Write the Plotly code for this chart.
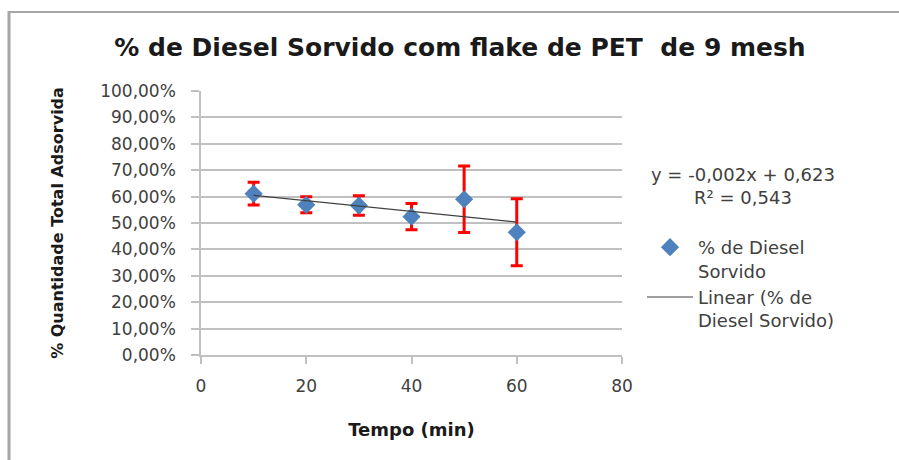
import numpy as np
import plotly.graph_objects as go

# Data
tempo = [10, 20, 30, 40, 50, 60]
diesel_sorvido = [0.611, 0.569, 0.566, 0.524, 0.590, 0.465]
erro = [0.043, 0.030, 0.037, 0.050, 0.126, 0.127]
x_ticks = [0, 20, 40, 60, 80]
equacao_texto = "y = -0,002x + 0,623<br>R² = 0,543"
titulo = "% de Diesel Sorvido com flake de PET  de 9 mesh"

slope, intercept = np.polyfit(tempo, diesel_sorvido, 1)
trend_x = [min(tempo), max(tempo)]
trend_y = [slope * v + intercept for v in trend_x]

W, H = 899, 460
L, R, T, B = 201, 277, 91, 105
pw, ph = W - L - R, H - T - B


def px(xp):
    return (xp - L) / pw


def py(yp):
    return (H - B - yp) / ph


fig = go.Figure()
fig.add_trace(go.Scatter(
    x=tempo, y=diesel_sorvido, mode="markers",
    name="% de Diesel<br>Sorvido",
    marker=dict(symbol="diamond", size=14, color="#4F81BD"),
    error_y=dict(type="data", array=erro, visible=True, color="#FF0000",
                 thickness=3, width=6),
))
fig.add_trace(go.Scatter(
    x=trend_x, y=trend_y, mode="lines",
    name="Linear (% de<br>Diesel Sorvido)",
    line=dict(color="#404040", width=1.2),
))

grid = "#C0C0C0"
fig.update_layout(
    width=W, height=H,
    margin=dict(l=L, r=R, t=T, b=B, autoexpand=False),
    paper_bgcolor="white", plot_bgcolor="white",
    separators=", ",
    font=dict(family="DejaVu Sans", color="#404040", size=14),
    title=dict(text="<b>" + titulo + "</b>", x=(108 + 812) / 2 / W, xanchor="center",
               y=1 - 47 / H, yanchor="middle",
               font=dict(family="DejaVu Sans", size=25, color="#1a1a1a")),
    xaxis=dict(range=[0, 80], tickvals=x_ticks, showgrid=False, zeroline=False,
               showline=True, linecolor=grid, linewidth=1.5,
               ticks="outside", ticklen=7, tickcolor=grid, tickwidth=1.5,
               ticklabelstandoff=8,
               tickfont=dict(size=17, color="#404040"),
               title=dict(text="<b>Tempo (min)</b>", standoff=28,
                          font=dict(size=18, color="#1a1a1a"))),
    yaxis=dict(range=[0, 1], dtick=0.1, tickformat=".2%", showgrid=True,
               gridcolor=grid, gridwidth=1.5, zeroline=False,
               showline=True, linecolor=grid, linewidth=1.5,
               ticks="outside", ticklen=8, tickcolor=grid, tickwidth=1.5,
               ticklabelstandoff=12,
               tickfont=dict(size=17, color="#404040"),
               title=dict(text="<b>% Quantidade Total Adsorvida</b>", standoff=33,
                          font=dict(size=16, color="#1a1a1a"))),
    legend=dict(x=px(642), xanchor="left", y=py(229), yanchor="top",
                bgcolor="rgba(0,0,0,0)", font=dict(size=18, color="#404040"),
                itemwidth=46, tracegroupgap=0, valign="top"),
    showlegend=True,
)
fig.add_annotation(text=equacao_texto, xref="paper", yref="paper",
                   x=px(743), y=py(186), xanchor="center", yanchor="middle",
                   showarrow=False, align="center",
                   font=dict(size=18, color="#404040"))
# chart frame
fig.add_shape(type="line", xref="paper", yref="paper", x0=px(9), x1=px(9),
              y0=py(11), y1=py(465), line=dict(color="#A6A6A6", width=3))
fig.add_shape(type="line", xref="paper", yref="paper", x0=px(8), x1=px(905),
              y0=py(12), y1=py(12), line=dict(color="#A6A6A6", width=2))

fig.write_html("out.html")
